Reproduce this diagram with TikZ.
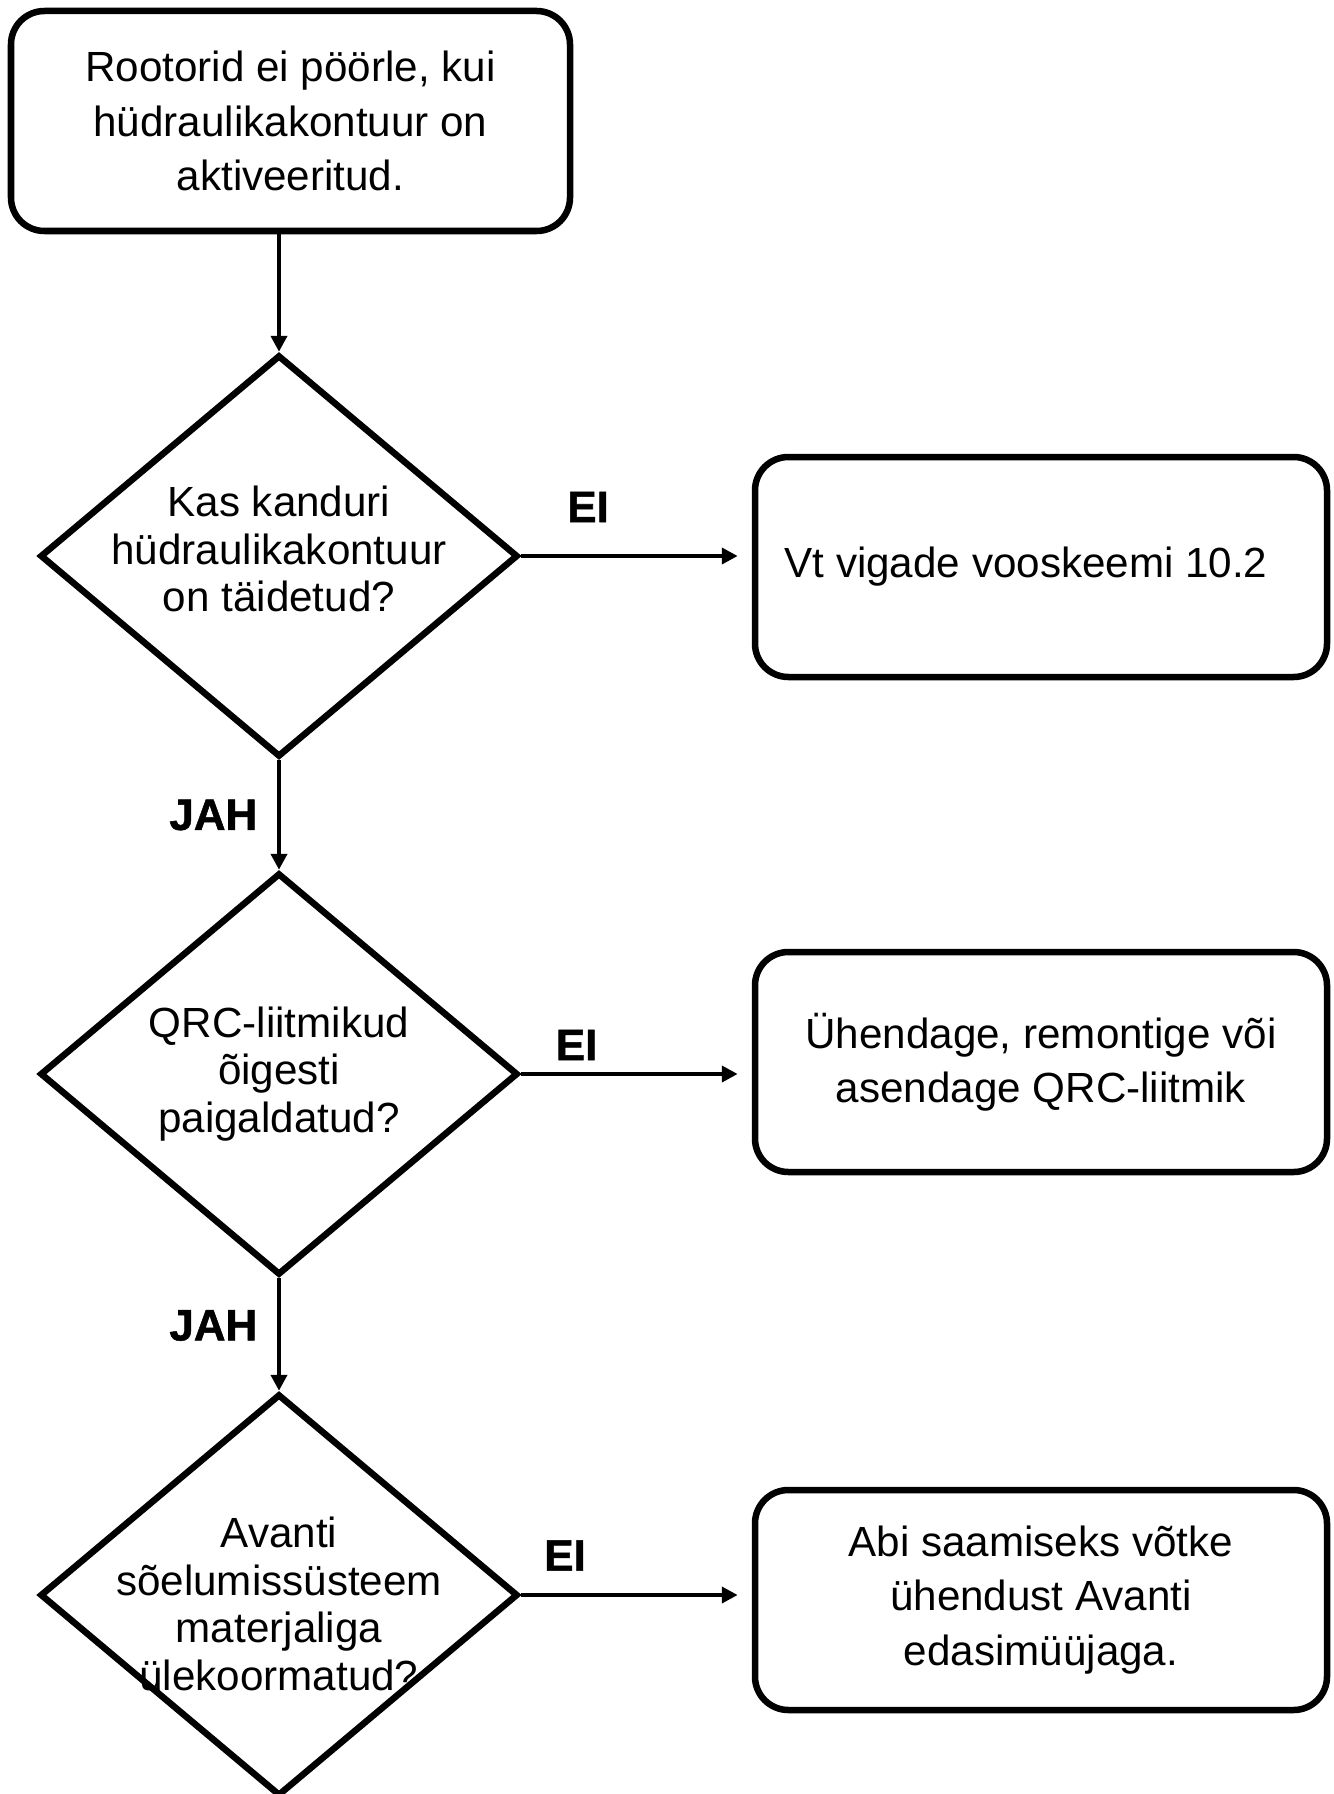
\documentclass[tikz,border=0pt]{standalone}
\usepackage{fontspec}
\setmainfont{Liberation Sans}
\newfontfamily\heavyfont[UprightFont={* Bold}, FakeBold=1.2]{Liberation Sans}
\usetikzlibrary{arrows.meta,positioning,shapes.geometric}

\begin{document}
\begin{tikzpicture}[
                font=\fontsize{24}{31}\selectfont,
                procbox/.style={rectangle, draw=black, line width=3.7pt, rounded corners=19pt, minimum width=11.44cm, minimum height=4.4cm, align=center, inner sep=0pt},
                decbox/.style={diamond, draw=black, line width=3.7pt, minimum width=9.56cm, minimum height=8.04cm, inner sep=0pt},
                dectext/.style={align=center, inner sep=0pt, font=\fontsize{24}{27.2}\selectfont},
                arr/.style={-{Triangle[length=9pt,width=9pt]}, line width=2.7pt},
                lbl/.style={font=\fontsize{25}{30}\selectfont\heavyfont, inner sep=0pt},
            ]
            \useasboundingbox (0,0) rectangle (26.68,-35.88);
            \node[procbox, minimum width=11.18cm] (start) at (5.81,-2.42) {Rootorid ei pöörle, kui\\hüdraulikakontuur on\\aktiveeritud.};

            \node[decbox] (d1) at (5.58,-11.12) {};
            \node[dectext] (d1t) at (5.58,-10.98) {Kas kanduri\\hüdraulikakontuur\\on täidetud?};
            \node[decbox] (d2) at (5.58,-21.48) {};
            \node[dectext] (d2t) at (5.58,-21.48) {QRC-liitmikud\\õigesti\\paigaldatud?};
            \node[decbox] (d3) at (5.58,-31.90) {};
            \node[dectext] (d3t) at (5.58,-32.08) {Avanti\\sõelumissüsteem\\materjaliga\\ülekoormatud?};

            \node[procbox] (b1) at (20.82,-11.34) {};
            \node (b1t) at (20.52,-11.34) {Vt vigade vooskeemi 10.2};
            \node[procbox] (b2) at (20.82,-21.24) {Ühendage, remontige või\\asendage QRC-liitmik};
            \node[procbox] (b3) at (20.82,-32.00) {Abi saamiseks võtke\\ühendust Avanti\\edasimüüjaga.};

            \draw[arr] (start.south -| d1.north) -- (d1.north);
            \draw[arr] (d1.south) -- node[lbl, left=11pt]{JAH} (d2.north);
            \draw[arr] (d2.south) -- node[lbl, pos=0.42, left=11pt]{JAH} (d3.north);

            \draw[arr, shorten >=8pt] (d1.east) -- node[lbl, pos=0.29, above=18pt]{EI} (d1.east -| b1.west);
            \draw[arr, shorten >=8pt] (d2.east) -- node[lbl, pos=0.24, above=6.5pt]{EI} (d2.east -| b2.west);
            \draw[arr, shorten >=8pt] (d3.east) -- node[lbl, pos=0.19, above=12.5pt]{EI} (d3.east -| b3.west);
        \end{tikzpicture}
\end{document}
